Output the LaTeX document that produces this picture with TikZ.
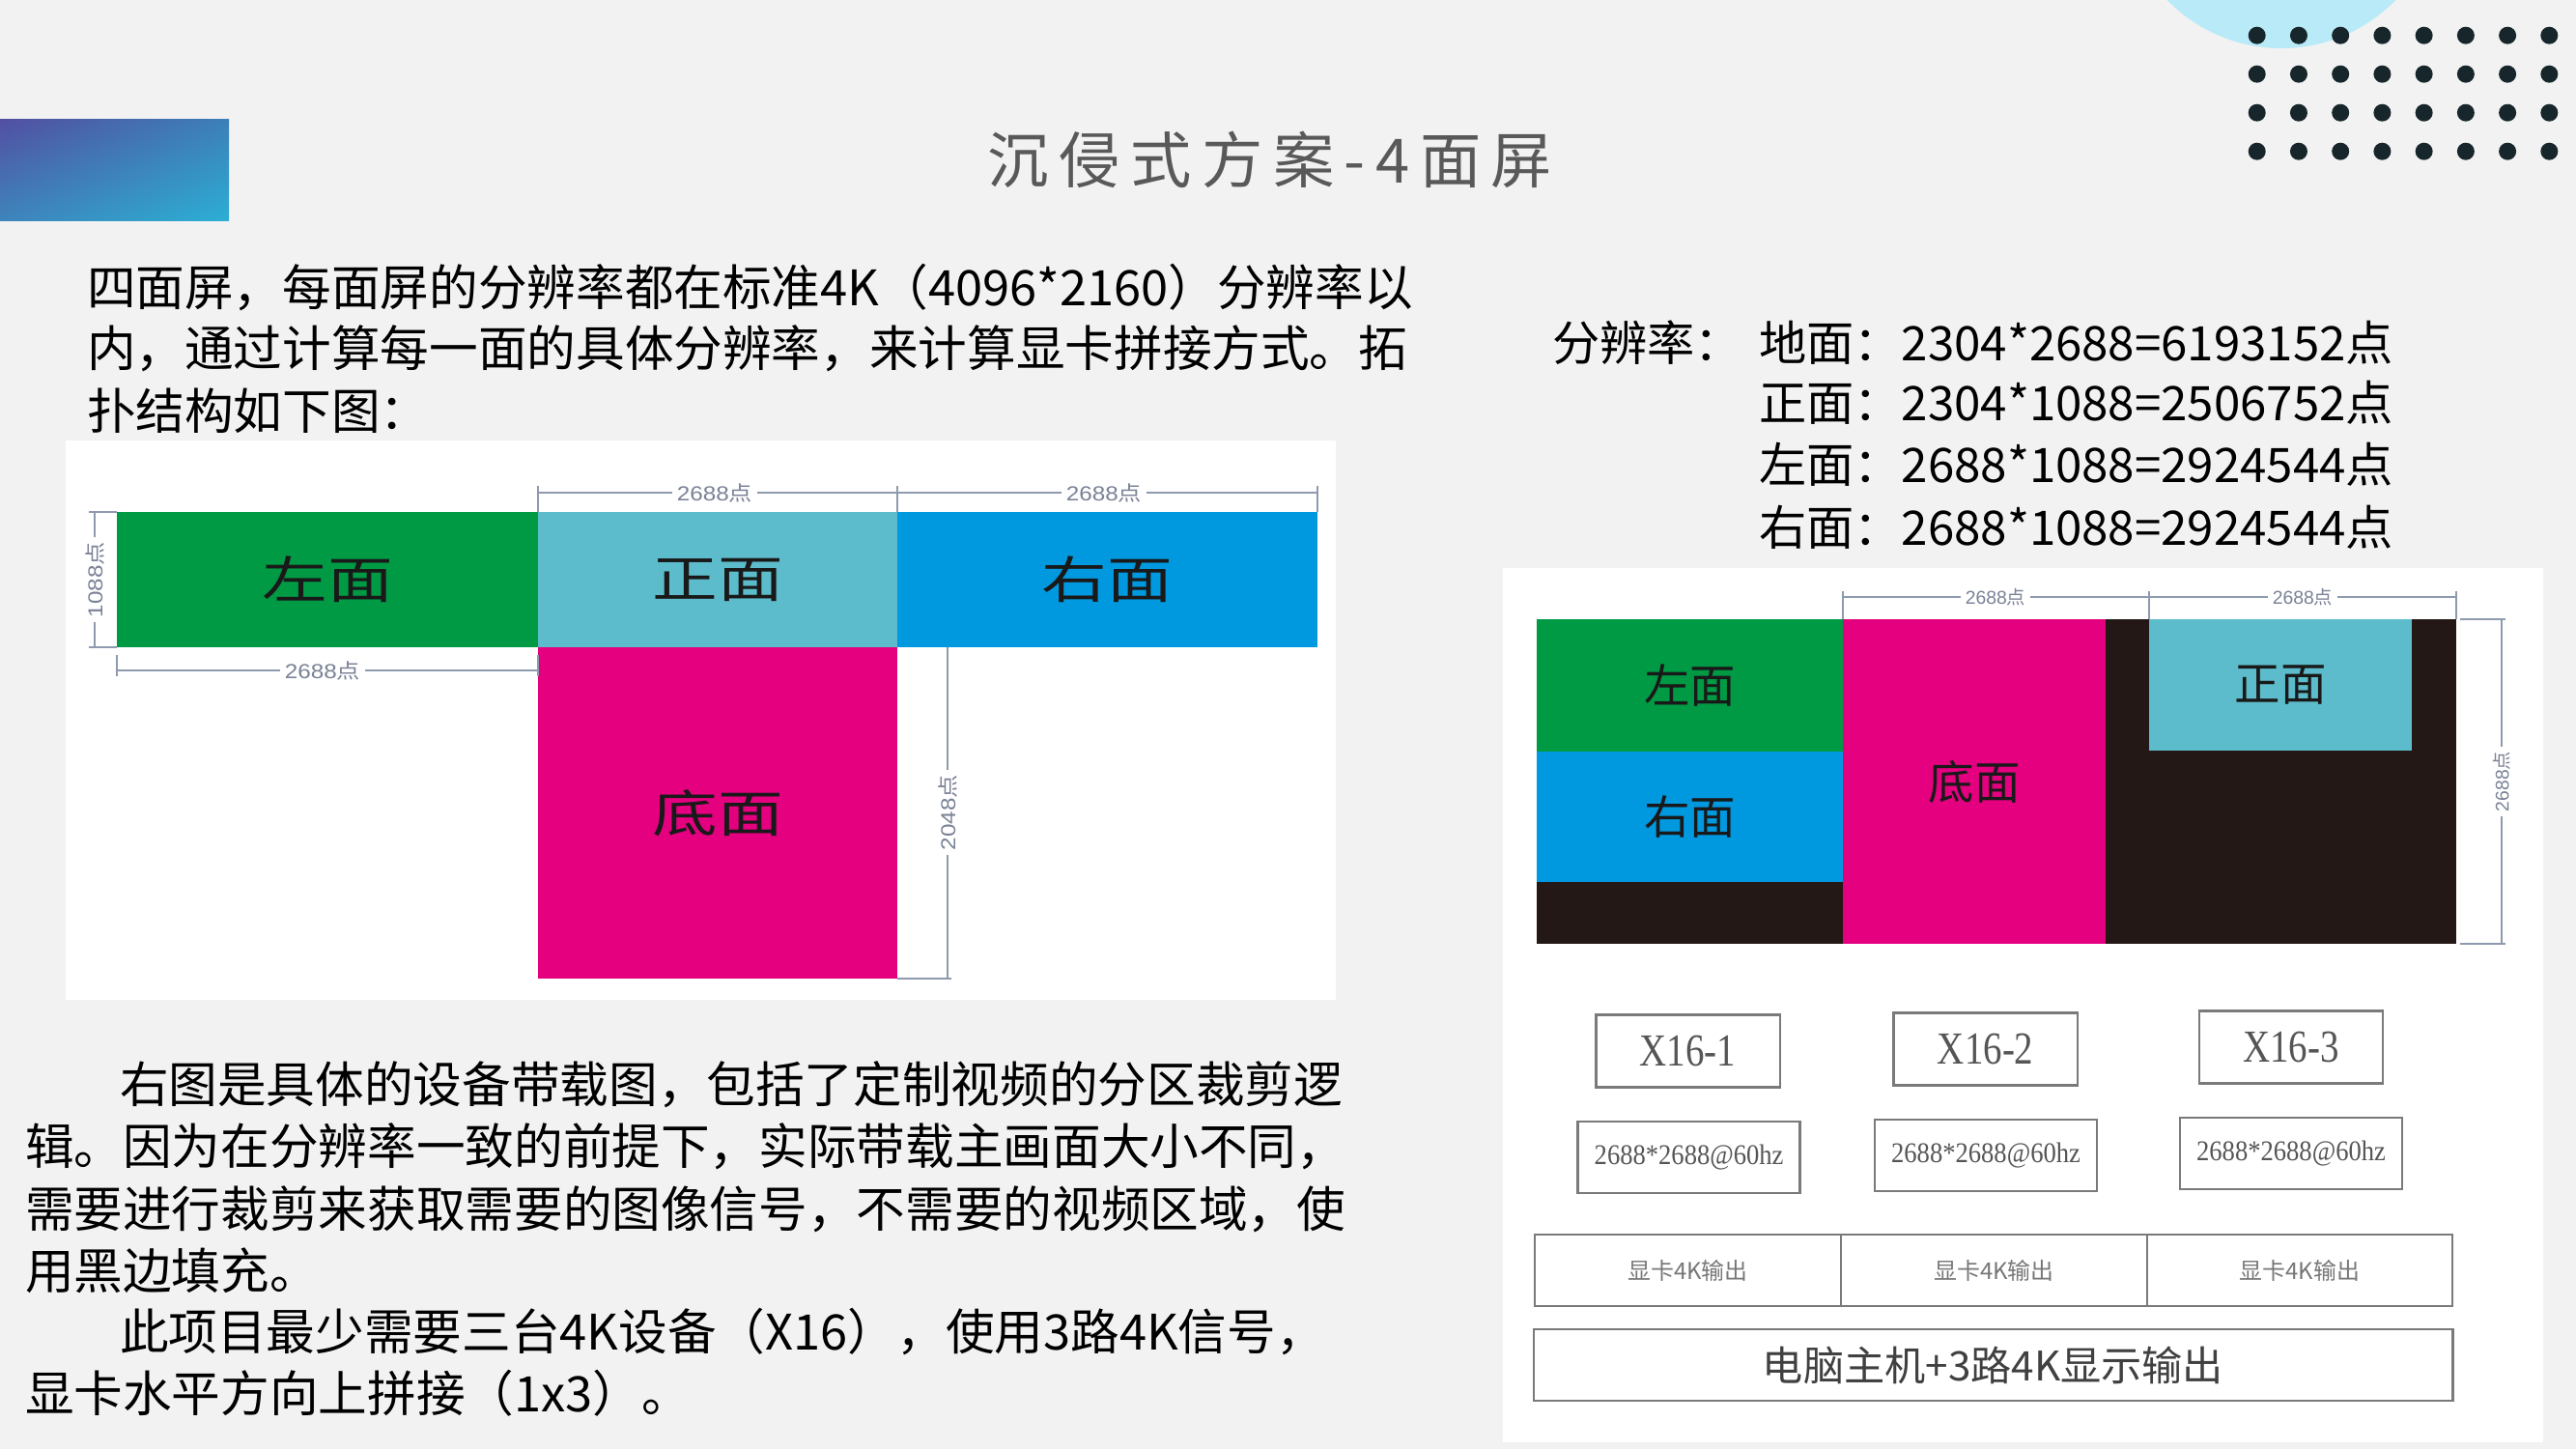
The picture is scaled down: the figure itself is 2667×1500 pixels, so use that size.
\documentclass[tikz,border=0pt]{standalone}
\usepackage{fontspec}
\usetikzlibrary{shadings}
\setmainfont{Noto Sans CJK SC}
\newfontfamily\lsans{Liberation Sans}
\newfontfamily\lserif{Liberation Serif}
\newfontfamily\cjk{Noto Sans CJK SC}
\definecolor{bgc}{HTML}{F2F2F2}
\definecolor{pgreen}{HTML}{009944}
\definecolor{pcyan}{HTML}{5CBCCB}
\definecolor{pblue}{HTML}{0098DF}
\definecolor{ppink}{HTML}{E4007F}
\definecolor{pblack}{HTML}{231815}
\definecolor{dimc}{HTML}{8E9AAE}
\definecolor{dimt}{HTML}{7A8296}
\definecolor{dotc}{HTML}{16262B}
\definecolor{circc}{HTML}{B9EAF8}
\definecolor{titlec}{HTML}{595959}
\definecolor{boxc}{HTML}{7A7A7A}
\definecolor{boxt}{HTML}{555555}
\definecolor{gU}{HTML}{5250A2}
\definecolor{gR}{HTML}{3C80B8}
\definecolor{gL}{HTML}{3E84BB}
\definecolor{gD}{HTML}{2CAED4}
\begin{document}
\begin{tikzpicture}[x=0.01cm,y=-0.01cm,
  txt/.style={anchor=west,inner sep=0pt,outer sep=0pt,text=black,font=\fontsize{14.4pt}{18pt}\selectfont},
  rtxt/.style={anchor=west,inner sep=0pt,outer sep=0pt,text=black,font=\fontsize{14pt}{18pt}\selectfont},
  panel/.style={inner sep=0pt,outer sep=0pt,draw=none,text=black!90},
  dim/.style={draw=dimc,line width=0.6pt},
  dimlab/.style={fill=white,inner sep=1.5pt,text=dimt,font=\fontsize{6pt}{7pt}\selectfont},
  devbox/.style={draw=boxc,line width=0.7pt,inner sep=0pt,outer sep=0pt,text=boxt,fill=white},
  whitepanel/.style={fill=white,draw=none}
]
\useasboundingbox (0,0) rectangle (2667,1500);
\fill[bgc] (0,0) rectangle (2667,1500);
% decorations
\begin{scope}
\clip (0,0) rectangle (2667,1500);
\fill[circc] (2362,-115) circle (165);
\end{scope}
\foreach \i in {0,...,7}{\foreach \j in {0,...,3}{\fill[dotc] (2336.7+43.23*\i,36.7+40*\j) circle (9);}}
\shade[upper left=gU,upper right=gR,lower left=gL,lower right=gD] (0,124) rectangle (237,228);
% title
\node[anchor=west,inner sep=0pt,text=titlec,font=\fontsize{18pt}{20pt}\selectfont] (title) at (1022,165)
  {沉\hspace{3pt}侵\hspace{3pt}式\hspace{3pt}方\hspace{3pt}案\hspace{3pt}-\hspace{3pt}4\hspace{3pt}面\hspace{3pt}屏};
% paragraph 1
\node[txt] (p1a) at (90,298) {四面屏，每面屏的分辨率都在标准4K（4096*2160）分辨率以};
\node[txt] (p1b) at (90,361) {内，通过计算每一面的具体分辨率，来计算显卡拼接方式。拓};
\node[txt] (p1c) at (90,425) {扑结构如下图：};
% paragraph 2
\node[txt] (p2a) at (124,1123) {右图是具体的设备带载图，包括了定制视频的分区裁剪逻};
\node[txt] (p2b) at (26,1187) {辑。因为在分辨率一致的前提下，实际带载主画面大小不同，};
\node[txt] (p2c) at (26,1252) {需要进行裁剪来获取需要的图像信号，不需要的视频区域，使};
\node[txt] (p2d) at (26,1315) {用黑边填充。};
\node[txt] (p2e) at (124,1379) {此项目最少需要三台4K设备（X16），使用3路4K信号，};
\node[txt] (p2f) at (26,1442) {显卡水平方向上拼接（1x3）。};
% resolution list
\node[rtxt] (rhead) at (1607,355) {分辨率：};
\node[rtxt] (r1) at (1821,355) {地面：2304*2688=6193152点};
\node[rtxt] (r2) at (1821,417) {正面：2304*1088=2506752点};
\node[rtxt] (r3) at (1821,481) {左面：2688*1088=2924544点};
\node[rtxt] (r4) at (1821,546) {右面：2688*1088=2924544点};
% ---------- left diagram ----------
\fill[whitepanel] (68,456) rectangle (1383,1035);
\node[panel,fill=pgreen,minimum width=4.355cm,minimum height=1.40cm] (Lleft) at (339.25,600) {\scalebox{1.3}[1]{\fontsize{14.8pt}{16pt}\selectfont 左面}};
\node[panel,fill=pcyan,minimum width=3.72cm,minimum height=1.40cm] (Lfront) at (743,600) {\scalebox{1.3}[1]{\fontsize{14.8pt}{16pt}\selectfont 正面}};
\node[panel,fill=pblue,minimum width=4.35cm,minimum height=1.40cm] (Lright) at (1146.5,600) {\scalebox{1.3}[1]{\fontsize{14.8pt}{16pt}\selectfont 右面}};
\node[panel,fill=ppink,minimum width=3.72cm,minimum height=3.43cm] (Lbottom) at (743,841.5) {\scalebox{1.3}[1]{\fontsize{14.8pt}{16pt}\selectfont 底面}};
% dims left
\draw[dim] (557,510) -- (1364,510);
\draw[dim] (557,503) -- (557,530) (929,503) -- (929,530) (1364,503) -- (1364,530);
\node[dimlab] (dl1) at (740,510) {\scalebox{1.15}[1]{{\lsans 2688}{\cjk 点}}};
\node[dimlab] (dl2) at (1143,510) {\scalebox{1.15}[1]{{\lsans 2688}{\cjk 点}}};
\draw[dim] (98,530) -- (98,670) (92,530) -- (121,530) (92,670) -- (121,670);
\node[dimlab,rotate=90] (dl3) at (98,600) {\scalebox{1.15}[1]{{\lsans 1088}{\cjk 点}}};
\draw[dim] (121,694) -- (557,694) (121,678) -- (121,700) (557,678) -- (557,700);
\node[dimlab] (dl4) at (334,694) {\scalebox{1.15}[1]{{\lsans 2688}{\cjk 点}}};
\draw[dim] (981,670) -- (981,1013) (929,1013) -- (985,1013);
\node[dimlab,rotate=90] (dl5) at (981,841) {\scalebox{1.15}[1]{{\lsans 2048}{\cjk 点}}};
% ---------- right diagram ----------
\fill[whitepanel] (1556,588) rectangle (2633,1493);
\node[panel,fill=pblack,minimum width=9.511cm,minimum height=3.36cm] (Rblack) at (2067.05,809) {};
\node[panel,fill=pgreen,minimum width=3.165cm,minimum height=1.37cm] (Rleft) at (1749.75,709.5) {\fontsize{13.5pt}{15pt}\selectfont 左面};
\node[panel,fill=pblue,minimum width=3.165cm,minimum height=1.35cm] (Rright) at (1749.75,845.5) {\fontsize{13.5pt}{15pt}\selectfont 右面};
\node[panel,fill=ppink,minimum width=2.72cm,minimum height=3.36cm] (Rbottom) at (2044,809) {\fontsize{13.5pt}{15pt}\selectfont 底面};
\node[panel,fill=pcyan,minimum width=2.72cm,minimum height=1.36cm] (Rfront) at (2361,709) {\fontsize{13.5pt}{15pt}\selectfont 正面};
% dims right
\draw[dim] (1908,618) -- (2543,618) (1908,612) -- (1908,641) (2225,612) -- (2225,641) (2543,612) -- (2543,641);
\node[dimlab,font=\fontsize{5.5pt}{6pt}\selectfont] (dr1) at (2066,618) {{\lsans 2688}{\cjk 点}};
\node[dimlab,font=\fontsize{5.5pt}{6pt}\selectfont] (dr2) at (2384,618) {{\lsans 2688}{\cjk 点}};
\draw[dim] (2590,641) -- (2590,977) (2547,641) -- (2594,641) (2547,977) -- (2594,977);
\node[dimlab,rotate=90,font=\fontsize{5.5pt}{6pt}\selectfont] (dr3) at (2590,809) {{\lsans 2688}{\cjk 点}};
% device boxes
\node[devbox,minimum width=1.902cm,minimum height=0.746cm] (x1) at (1747.6,1088) {\lserif\fontsize{13.5pt}{15pt}\selectfont\scalebox{0.82}[1]{X16-1}};
\node[devbox,minimum width=1.902cm,minimum height=0.746cm] (x2) at (2055.7,1086) {\lserif\fontsize{13.5pt}{15pt}\selectfont\scalebox{0.82}[1]{X16-2}};
\node[devbox,minimum width=1.902cm,minimum height=0.746cm] (x3) at (2371.85,1084) {\lserif\fontsize{13.5pt}{15pt}\selectfont\scalebox{0.82}[1]{X16-3}};
\node[devbox,minimum width=2.298cm,minimum height=0.74cm] (s1) at (1748.6,1198) {\lserif\fontsize{8.4pt}{9pt}\selectfont\scalebox{0.9}[1]{2688*2688@60hz}};
\node[devbox,minimum width=2.298cm,minimum height=0.74cm] (s2) at (2056,1196) {\lserif\fontsize{8.4pt}{9pt}\selectfont\scalebox{0.9}[1]{2688*2688@60hz}};
\node[devbox,minimum width=2.298cm,minimum height=0.74cm] (s3) at (2372,1194) {\lserif\fontsize{8.4pt}{9pt}\selectfont\scalebox{0.9}[1]{2688*2688@60hz}};
\node[devbox,text=boxt!80,minimum width=3.17cm,minimum height=0.74cm] (g1) at (1747.5,1315) {\fontsize{6.8pt}{8pt}\selectfont 显卡4K输出};
\node[devbox,text=boxt!80,minimum width=3.17cm,minimum height=0.74cm] (g2) at (2064.5,1315) {\fontsize{6.8pt}{8pt}\selectfont 显卡4K输出};
\node[devbox,text=boxt!80,minimum width=3.16cm,minimum height=0.74cm] (g3) at (2381,1315) {\fontsize{6.8pt}{8pt}\selectfont 显卡4K输出};
\node[devbox,text=black!75,minimum width=9.51cm,minimum height=0.74cm] (pc) at (2063.5,1413) {\fontsize{12pt}{14pt}\selectfont 电脑主机+3路4K显示输出};
\end{tikzpicture}
\end{document}
